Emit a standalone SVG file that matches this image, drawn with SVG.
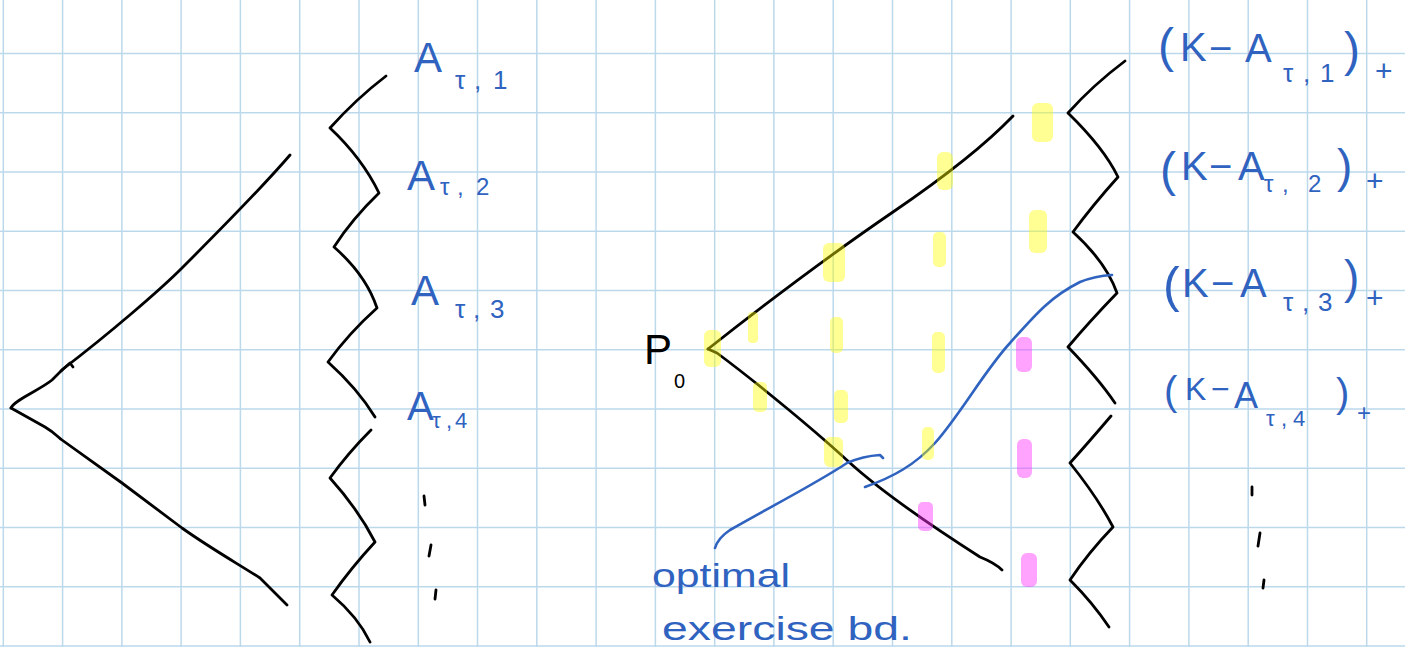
<svg xmlns="http://www.w3.org/2000/svg" width="1405" height="647" viewBox="0 0 1405 647">
<style>
.grid{stroke:#bcd9ec;stroke-width:1.5;fill:none}
.ink{stroke:#000;stroke-width:2.8;fill:none;stroke-linecap:round;stroke-linejoin:round}
.blue{stroke:#2f63bf;stroke-width:2.6;fill:none;stroke-linecap:round;stroke-linejoin:round}
.hy{fill:#ffff00;opacity:0.42}
.hp{fill:#ff33ff;opacity:0.45}
.lab{font-family:"Liberation Sans",Arial,sans-serif;fill:#2f63bf}
.blk{font-family:"Liberation Sans",Arial,sans-serif;fill:#000}
</style>
<rect width="1405" height="647" fill="#fff"/>
<g id="grid">
<path class="grid" d="M3.3,0V647M62.6,0V647M121.9,0V647M181.1,0V647M240.4,0V647M299.7,0V647M359,0V647M418.3,0V647M477.5,0V647M536.8,0V647M596.1,0V647M655.4,0V647M714.7,0V647M773.9,0V647M833.2,0V647M892.5,0V647M951.8,0V647M1011.1,0V647M1070.3,0V647M1129.6,0V647M1188.9,0V647M1248.2,0V647M1307.5,0V647M1366.7,0V647"/>
<path class="grid" d="M0,53.5H1405M0,112.75H1405M0,172H1405M0,231.25H1405M0,290.5H1405M0,349.75H1405M0,409H1405M0,468.25H1405M0,527.5H1405M0,586.75H1405M0,646H1405"/>
</g>
<g id="connectors">
<path id="left-tree-up" class="ink" d="M11,408 C14,400 40,390 52,380 L63,369 C110,333 160,290 182,268 S260,190 290,155"/>
<path id="left-tree-tick" class="ink" d="M61,371 L70,363 L73,367"/>
<path id="left-tree-down" class="ink" d="M11,408 L45,427 C55,433 58,437 62,440 L122,483 L182,528 C210,548 240,565 260,578 L287,605"/>
<path id="left-zig" class="ink" d="M386,76 Q356,99 330,128 Q362,158 379,193 Q352,219 334,247 Q366,275 377,308 Q349,333 328,362 Q358,389 375,417 M371,430 Q348,453 330,478 Q358,509 375,542 Q351,568 332,595 Q358,617 370,642"/>
<path id="left-dots" class="ink" d="M424,496 L425,505 M431,545 L429,556 M436,590 L435,599"/>
<path id="right-tree-up" class="ink" d="M708,349 C760,308 830,255 893,212 S990,140 1013,116"/>
<path id="right-tree-down" class="ink" d="M708,349 L717,353 C760,385 820,435 850,463 C880,490 930,525 980,557 Q995,563 1002,570"/>
<path id="right-zig" class="ink" d="M1125,61 Q1093,85 1068,113 Q1104,148 1118,177 Q1092,206 1073,232 Q1106,262 1117,293 Q1089,322 1068,347 Q1098,378 1115,403 M1111,416 Q1088,443 1070,463 Q1098,498 1113,527 Q1088,553 1070,580 Q1093,603 1109,627"/>
<path id="right-dots" class="ink" d="M1252,487 L1252,495 M1260,533 L1258,546 M1264,580 L1263,588"/>
<path id="boundary-1" class="blue" d="M715,548 Q718,538 730,530 C770,507 817,483 847,463 Q863,456 880,455 L883,458"/>
<path id="boundary-2" class="blue" d="M865,487 C893,477 915,465 935,443 C960,415 985,370 1010,343 C1035,315 1050,297 1080,282 Q1095,276 1112,275"/>
</g>
<g id="highlights">
<rect class="hy" x="1032" y="103" width="21" height="39" rx="6"/>
<rect class="hy" x="937" y="152" width="16" height="38" rx="6"/>
<rect class="hy" x="823" y="243" width="22" height="39" rx="6"/>
<rect class="hy" x="933" y="232" width="13" height="35" rx="5"/>
<rect class="hy" x="1029" y="210" width="18" height="43" rx="6"/>
<rect class="hy" x="748" y="312" width="10" height="31" rx="4"/>
<rect class="hy" x="830" y="317" width="13" height="36" rx="5"/>
<rect class="hy" x="704" y="330" width="17" height="37" rx="6"/>
<rect class="hy" x="753" y="382" width="14" height="30" rx="5"/>
<rect class="hy" x="834" y="390" width="14" height="33" rx="5"/>
<rect class="hy" x="824" y="437" width="19" height="30" rx="6"/>
<rect class="hy" x="932" y="332" width="13" height="41" rx="5"/>
<rect class="hy" x="922" y="427" width="12" height="33" rx="5"/>
<rect class="hp" x="1016" y="337" width="16" height="35" rx="6"/>
<rect class="hp" x="1017" y="439" width="15" height="39" rx="6"/>
<rect class="hp" x="918" y="502" width="15" height="29" rx="5"/>
<rect class="hp" x="1021" y="553" width="16" height="34" rx="6"/>
</g>
<g id="label-A1"><text class="lab" font-size="42" x="414" y="72">A</text><text class="lab" font-size="26" y="89"><tspan x="455">τ</tspan><tspan x="474">,</tspan><tspan x="493">1</tspan></text></g>
<g id="label-A2"><text class="lab" font-size="42" x="407" y="190">A</text><text class="lab" font-size="24" y="195"><tspan x="440">τ</tspan><tspan x="457">,</tspan><tspan x="476">2</tspan></text></g>
<g id="label-A3"><text class="lab" font-size="42" x="411" y="305">A</text><text class="lab" font-size="26" y="318"><tspan x="455">τ</tspan><tspan x="473">,</tspan><tspan x="490">3</tspan></text></g>
<g id="label-A4"><text class="lab" font-size="40" x="407" y="420">A</text><text class="lab" font-size="22" y="428"><tspan x="432">τ</tspan><tspan x="446">,</tspan><tspan x="455">4</tspan></text></g>
<g id="label-P0"><text class="blk" font-size="42" x="644" y="364">P</text><text class="blk" font-size="20" x="674" y="388">0</text></g>
<g id="label-K1"><text class="lab" font-size="48" x="1158" y="62">(</text><text class="lab" font-size="40" x="1180" y="61">K</text><text class="lab" font-size="40" x="1209" y="62">−</text><text class="lab" font-size="40" x="1245" y="62">A</text><text class="lab" font-size="26" y="82"><tspan x="1283">τ</tspan><tspan x="1303">,</tspan><tspan x="1320">1</tspan></text><text class="lab" font-size="48" x="1344" y="66">)</text><text class="lab" font-size="30" x="1375" y="81">+</text></g>
<g id="label-K2"><text class="lab" font-size="48" x="1160" y="186">(</text><text class="lab" font-size="40" x="1181" y="180">K</text><text class="lab" font-size="40" x="1209" y="180">−</text><text class="lab" font-size="40" x="1238" y="180">A</text><text class="lab" font-size="24" y="192"><tspan x="1264">τ</tspan><tspan x="1282">,</tspan><tspan x="1308">2</tspan></text><text class="lab" font-size="46" x="1337" y="182">)</text><text class="lab" font-size="30" x="1366" y="191">+</text></g>
<g id="label-K3"><text class="lab" font-size="50" x="1163" y="302">(</text><text class="lab" font-size="40" x="1182" y="297">K</text><text class="lab" font-size="40" x="1211" y="297">−</text><text class="lab" font-size="40" x="1240" y="297">A</text><text class="lab" font-size="26" y="311"><tspan x="1283">τ</tspan><tspan x="1302">,</tspan><tspan x="1318">3</tspan></text><text class="lab" font-size="46" x="1344" y="293">)</text><text class="lab" font-size="30" x="1366" y="308">+</text></g>
<g id="label-K4"><text class="lab" font-size="40" x="1164" y="405">(</text><text class="lab" font-size="32" x="1185" y="400">K</text><text class="lab" font-size="32" x="1211" y="400">−</text><text class="lab" font-size="36" x="1234" y="408">A</text><text class="lab" font-size="22" y="426"><tspan x="1266">τ</tspan><tspan x="1281">,</tspan><tspan x="1293">4</tspan></text><text class="lab" font-size="40" x="1336" y="407">)</text><text class="lab" font-size="24" x="1357" y="421">+</text></g>
<g id="label-boundary"><text class="lab" font-size="34" x="652" y="587" textLength="138" lengthAdjust="spacingAndGlyphs">optimal</text><text class="lab" font-size="34" x="662" y="640" textLength="250" lengthAdjust="spacingAndGlyphs">exercise bd.</text></g>
</svg>
